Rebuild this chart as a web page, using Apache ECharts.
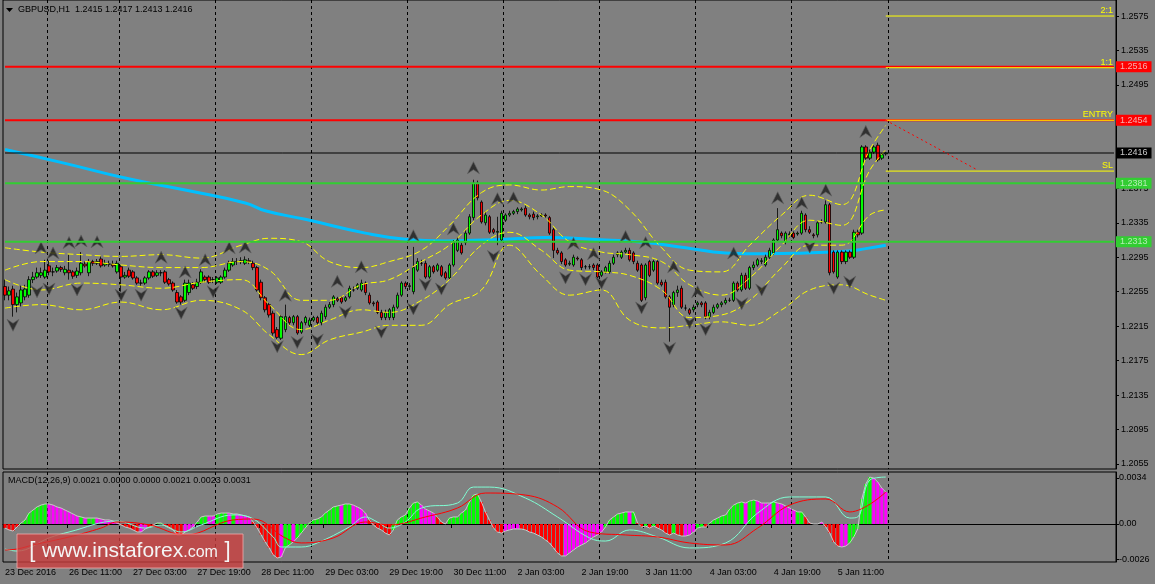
<!DOCTYPE html>
<html><head><meta charset="utf-8">
<script src="https://cdn.jsdelivr.net/npm/echarts@6/dist/echarts.min.js"></script>
<style>html,body{margin:0;padding:0;background:#808080;}#c{width:1155px;height:584px;}</style>
</head><body><div id="c"></div>
<script>
const FONT = "'Liberation Sans', Arial, sans-serif";
const slotCount = 278;
const xTickLabels = ["23 Dec 2016","26 Dec 11:00","27 Dec 03:00","27 Dec 19:00","28 Dec 11:00","29 Dec 03:00","29 Dec 19:00","30 Dec 11:00","2 Jan 03:00","2 Jan 19:00","3 Jan 11:00","4 Jan 03:00","4 Jan 19:00","5 Jan 11:00"];
const daySeparators = [11,29,53,77,101,125,149,173,197,221];
const priceTicks = [1.2055,1.2095,1.2135,1.2175,1.2215,1.2255,1.2295,1.2335,1.2375,1.2415,1.2455,1.2495,1.2535,1.2575];
const macdTicks = [0.0034,0,-0.0026];
// [open, close, low, high]
const candles = [
[1.2261,1.2251,1.2245,1.2269],[1.2251,1.2256,1.2245,1.2261],[1.2258,1.2240,1.2226,1.2262],[1.2240,1.2249,1.2231,1.2254],[1.2242,1.2257,1.2238,1.2262],
[1.2249,1.2258,1.2245,1.2263],[1.2251,1.2269,1.2248,1.2273],[1.2269,1.2272,1.2265,1.2278],[1.2272,1.2277,1.2270,1.2283],[1.2274,1.2277,1.2271,1.2283],
[1.2272,1.2280,1.2270,1.2292],[1.2285,1.2278,1.2274,1.2291],[1.2278,1.2278,1.2273,1.2283],[1.2279,1.2283,1.2277,1.2286],[1.2283,1.2281,1.2278,1.2285],
[1.2277,1.2281,1.2274,1.2285],[1.2280,1.2277,1.2269,1.2298],[1.2278,1.2273,1.2270,1.2280],[1.2274,1.2279,1.2271,1.2283],[1.2277,1.2288,1.2274,1.2301],
[1.2287,1.2285,1.2283,1.2290],[1.2277,1.2290,1.2273,1.2293],[1.2290,1.2288,1.2285,1.2292],[1.2288,1.2290,1.2286,1.2293],[1.2293,1.2285,1.2283,1.2296],
[1.2286,1.2288,1.2284,1.2292],[1.2287,1.2287,1.2284,1.2291],[1.2287,1.2285,1.2283,1.2291],[1.2278,1.2288,1.2276,1.2291],[1.2284,1.2272,1.2255,1.2286],
[1.2272,1.2274,1.2270,1.2278],[1.2280,1.2273,1.2271,1.2283],[1.2278,1.2271,1.2269,1.2280],[1.2271,1.2265,1.2263,1.2273],[1.2265,1.2265,1.2262,1.2269],
[1.2265,1.2271,1.2263,1.2273],[1.2271,1.2278,1.2269,1.2280],[1.2278,1.2273,1.2271,1.2280],[1.2274,1.2277,1.2272,1.2280],[1.2277,1.2277,1.2273,1.2280],
[1.2278,1.2266,1.2264,1.2280],[1.2269,1.2264,1.2262,1.2271],[1.2265,1.2257,1.2255,1.2267],[1.2254,1.2243,1.2241,1.2257],[1.2249,1.2243,1.2240,1.2251],
[1.2245,1.2265,1.2243,1.2269],[1.2254,1.2265,1.2251,1.2269],[1.2263,1.2259,1.2257,1.2266],[1.2261,1.2266,1.2258,1.2270],[1.2266,1.2278,1.2264,1.2281],
[1.2272,1.2269,1.2266,1.2274],[1.2272,1.2266,1.2264,1.2274],[1.2269,1.2269,1.2265,1.2272],[1.2266,1.2271,1.2264,1.2273],[1.2266,1.2272,1.2264,1.2274],
[1.2272,1.2280,1.2270,1.2283],[1.2280,1.2288,1.2278,1.2291],[1.2286,1.2290,1.2284,1.2294],[1.2290,1.2290,1.2286,1.2294],[1.2290,1.2291,1.2287,1.2295],
[1.2288,1.2292,1.2286,1.2296],[1.2291,1.2290,1.2287,1.2294],[1.2288,1.2283,1.2280,1.2291],[1.2283,1.2257,1.2255,1.2285],[1.2266,1.2248,1.2245,1.2269],
[1.2248,1.2234,1.2231,1.2250],[1.2240,1.2228,1.2225,1.2242],[1.2230,1.2207,1.2204,1.2233],[1.2211,1.2202,1.2200,1.2214],[1.2201,1.2226,1.2199,1.2228],
[1.2211,1.2226,1.2208,1.2240],[1.2225,1.2219,1.2216,1.2227],[1.2219,1.2226,1.2216,1.2228],[1.2226,1.2207,1.2205,1.2228],[1.2208,1.2219,1.2206,1.2221],
[1.2219,1.2225,1.2216,1.2227],[1.2216,1.2222,1.2214,1.2225],[1.2222,1.2225,1.2220,1.2227],[1.2225,1.2219,1.2216,1.2227],[1.2219,1.2230,1.2216,1.2233],
[1.2226,1.2237,1.2223,1.2240],[1.2237,1.2240,1.2235,1.2243],[1.2240,1.2249,1.2237,1.2251],[1.2247,1.2245,1.2243,1.2249],[1.2248,1.2243,1.2241,1.2250],
[1.2245,1.2248,1.2243,1.2250],[1.2249,1.2259,1.2247,1.2262],[1.2257,1.2257,1.2255,1.2261],[1.2259,1.2263,1.2257,1.2265],[1.2257,1.2265,1.2255,1.2269],
[1.2265,1.2254,1.2251,1.2267],[1.2251,1.2242,1.2240,1.2254],[1.2242,1.2241,1.2238,1.2244],[1.2243,1.2231,1.2229,1.2245],[1.2231,1.2225,1.2222,1.2234],
[1.2225,1.2231,1.2222,1.2234],[1.2225,1.2234,1.2222,1.2236],[1.2225,1.2237,1.2222,1.2240],[1.2237,1.2251,1.2235,1.2254],[1.2251,1.2265,1.2249,1.2267],
[1.2265,1.2261,1.2258,1.2267],[1.2261,1.2262,1.2257,1.2265],[1.2255,1.2283,1.2252,1.2307],[1.2280,1.2290,1.2278,1.2294],[1.2288,1.2288,1.2285,1.2292],
[1.2288,1.2272,1.2270,1.2291],[1.2272,1.2284,1.2270,1.2286],[1.2284,1.2278,1.2276,1.2286],[1.2280,1.2286,1.2278,1.2288],[1.2284,1.2274,1.2272,1.2286],
[1.2277,1.2271,1.2269,1.2279],[1.2271,1.2286,1.2269,1.2288],[1.2286,1.2312,1.2284,1.2315],[1.2303,1.2315,1.2301,1.2318],[1.2309,1.2300,1.2298,1.2312],
[1.2312,1.2323,1.2309,1.2327],[1.2323,1.2342,1.2321,1.2345],[1.2341,1.2381,1.2338,1.2385],[1.2381,1.2364,1.2361,1.2384],[1.2359,1.2336,1.2334,1.2361],
[1.2335,1.2344,1.2332,1.2348],[1.2342,1.2324,1.2322,1.2344],[1.2327,1.2324,1.2322,1.2329],[1.2324,1.2325,1.2309,1.2342],[1.2315,1.2346,1.2313,1.2349],
[1.2338,1.2344,1.2336,1.2346],[1.2344,1.2346,1.2342,1.2349],[1.2346,1.2348,1.2344,1.2350],[1.2348,1.2351,1.2345,1.2353],[1.2350,1.2351,1.2348,1.2353],
[1.2352,1.2344,1.2342,1.2355],[1.2344,1.2342,1.2339,1.2346],[1.2345,1.2341,1.2338,1.2348],[1.2342,1.2343,1.2339,1.2345],[1.2343,1.2344,1.2342,1.2346],
[1.2344,1.2343,1.2341,1.2346],[1.2341,1.2323,1.2321,1.2343],[1.2327,1.2303,1.2294,1.2329],[1.2303,1.2300,1.2298,1.2306],[1.2300,1.2290,1.2287,1.2302],
[1.2292,1.2286,1.2284,1.2294],[1.2287,1.2288,1.2285,1.2291],[1.2286,1.2295,1.2284,1.2298],[1.2294,1.2293,1.2291,1.2296],[1.2292,1.2283,1.2280,1.2294],
[1.2284,1.2284,1.2281,1.2286],[1.2284,1.2284,1.2281,1.2287],[1.2286,1.2283,1.2280,1.2288],[1.2286,1.2272,1.2270,1.2288],[1.2274,1.2278,1.2272,1.2280],
[1.2278,1.2283,1.2276,1.2285],[1.2278,1.2288,1.2276,1.2291],[1.2288,1.2295,1.2286,1.2298],[1.2298,1.2300,1.2295,1.2302],[1.2295,1.2301,1.2293,1.2303],
[1.2301,1.2303,1.2299,1.2306],[1.2303,1.2292,1.2290,1.2306],[1.2300,1.2290,1.2287,1.2302],[1.2288,1.2280,1.2278,1.2291],[1.2286,1.2245,1.2243,1.2288],
[1.2248,1.2286,1.2245,1.2288],[1.2290,1.2274,1.2272,1.2292],[1.2280,1.2290,1.2278,1.2292],[1.2290,1.2265,1.2263,1.2292],[1.2266,1.2263,1.2261,1.2269],
[1.2266,1.2249,1.2247,1.2269],[1.2249,1.2237,1.2197,1.2251],[1.2240,1.2254,1.2237,1.2256],[1.2254,1.2257,1.2249,1.2262],[1.2259,1.2237,1.2235,1.2262],
[1.2236,1.2236,1.2233,1.2240],[1.2234,1.2230,1.2228,1.2236],[1.2234,1.2237,1.2231,1.2240],[1.2240,1.2242,1.2237,1.2244],[1.2242,1.2240,1.2237,1.2244],
[1.2242,1.2226,1.2223,1.2244],[1.2226,1.2231,1.2223,1.2234],[1.2231,1.2237,1.2229,1.2240],[1.2237,1.2240,1.2235,1.2242],[1.2240,1.2242,1.2237,1.2244],
[1.2242,1.2245,1.2240,1.2248],[1.2245,1.2245,1.2243,1.2248],[1.2245,1.2265,1.2243,1.2267],[1.2265,1.2257,1.2255,1.2267],[1.2257,1.2274,1.2255,1.2277],
[1.2274,1.2259,1.2257,1.2277],[1.2259,1.2283,1.2257,1.2285],[1.2283,1.2286,1.2280,1.2290],[1.2286,1.2292,1.2284,1.2294],[1.2290,1.2291,1.2287,1.2294],
[1.2286,1.2295,1.2284,1.2298],[1.2295,1.2303,1.2293,1.2306],[1.2300,1.2315,1.2298,1.2317],[1.2315,1.2327,1.2313,1.2352],[1.2323,1.2320,1.2317,1.2325],
[1.2313,1.2323,1.2310,1.2325],[1.2321,1.2322,1.2318,1.2325],[1.2323,1.2318,1.2316,1.2325],[1.2322,1.2323,1.2320,1.2325],[1.2323,1.2346,1.2321,1.2349],
[1.2344,1.2327,1.2324,1.2346],[1.2327,1.2324,1.2322,1.2331],[1.2321,1.2320,1.2317,1.2323],[1.2321,1.2335,1.2318,1.2337],[1.2336,1.2336,1.2334,1.2339],
[1.2336,1.2356,1.2334,1.2361],[1.2356,1.2277,1.2274,1.2358],[1.2301,1.2278,1.2276,1.2303],[1.2272,1.2301,1.2270,1.2303],[1.2301,1.2290,1.2287,1.2303],
[1.2290,1.2301,1.2287,1.2303],[1.2301,1.2295,1.2293,1.2303],[1.2295,1.2324,1.2293,1.2327],[1.2324,1.2321,1.2318,1.2327],[1.2323,1.2423,1.2321,1.2425],
[1.2423,1.2410,1.2408,1.2425],[1.2410,1.2417,1.2408,1.2420],[1.2417,1.2423,1.2415,1.2425],[1.2425,1.2408,1.2406,1.2428],[1.2410,1.2414,1.2408,1.2416],
[1.2415,1.2416,1.2413,1.2417]
];
const movingAverage = [[0,1.2420],[15,1.2404],[30,1.2387],[45,1.2373],[60,1.2358],[65,1.2349],[75,1.2339],[90,1.2323],[100,1.2316],[110,1.2314],[125,1.2316],[135,1.2318],[150,1.2315],[160,1.2312],[170,1.2306],[180,1.2300],[190,1.2299],[200,1.2300],[210,1.2302],[215,1.2305],[220,1.2309]];
const bandOuterUpper = [[0,1.2306],[9,1.2301],[19,1.2298],[29,1.2296],[39,1.2298],[49,1.2294],[59,1.2309],[66,1.2317],[74,1.2313],[81,1.2290],[89,1.2283],[96,1.2290],[104,1.2303],[111,1.2332],[119,1.2370],[126,1.2379],[134,1.2373],[141,1.2377],[149,1.2373],[156,1.2350],[164,1.2306],[171,1.2280],[179,1.2278],[186,1.2309],[194,1.2344],[201,1.2367],[209,1.2356],[216,1.2420],[220,1.2448]];
const bandInnerUpper = [[0,1.2280],[9,1.2290],[19,1.2290],[29,1.2286],[39,1.2283],[49,1.2283],[59,1.2290],[66,1.2280],[74,1.2245],[81,1.2245],[89,1.2263],[96,1.2269],[104,1.2290],[111,1.2309],[119,1.2344],[126,1.2361],[134,1.2344],[141,1.2313],[149,1.2301],[156,1.2298],[164,1.2290],[171,1.2263],[179,1.2251],[186,1.2271],[194,1.2309],[201,1.2338],[209,1.2332],[216,1.2396],[220,1.2420]];
const bandInnerLower = [[0,1.2269],[9,1.2257],[19,1.2265],[29,1.2263],[39,1.2259],[49,1.2266],[59,1.2269],[66,1.2240],[74,1.2211],[81,1.2222],[89,1.2234],[96,1.2231],[104,1.2245],[111,1.2269],[119,1.2309],[126,1.2324],[134,1.2303],[141,1.2280],[149,1.2278],[156,1.2274],[164,1.2257],[171,1.2225],[179,1.2228],[186,1.2245],[194,1.2283],[201,1.2309],[209,1.2309],[216,1.2344],[220,1.2350]];
const bandOuterLower = [[0,1.2236],[9,1.2240],[19,1.2234],[29,1.2243],[39,1.2234],[49,1.2245],[59,1.2234],[66,1.2205],[74,1.2182],[81,1.2199],[89,1.2208],[96,1.2216],[104,1.2216],[111,1.2240],[119,1.2257],[126,1.2309],[134,1.2274],[141,1.2251],[149,1.2257],[156,1.2222],[164,1.2213],[171,1.2216],[179,1.2220],[186,1.2216],[194,1.2234],[201,1.2257],[209,1.2263],[216,1.2251],[220,1.2245]];
const fractalUp = [[9,1.2306],[12,1.2300],[16,1.2312],[19,1.2314],[23,1.2313],[39,1.2295],[45,1.2278],[50,1.2292],[56,1.2306],[60,1.2307],[70,1.2251],[83,1.2267],[89,1.2284],[102,1.2320],[112,1.2328],[117,1.2399],[123,1.2363],[127,1.2364],[142,1.2311],[147,1.2299],[155,1.2319],[160,1.2312],[167,1.2284],[173,1.2255],[182,1.2300],[193,1.2364],[199,1.2358],[205,1.2373],[215,1.2441]];
const fractalDown = [[2,1.2216],[8,1.2255],[11,1.2258],[18,1.2257],[29,1.2251],[34,1.2251],[44,1.2230],[52,1.2255],[68,1.2191],[73,1.2196],[78,1.2199],[85,1.2231],[94,1.2208],[102,1.2235],[105,1.2263],[109,1.2258],[122,1.2296],[140,1.2271],[145,1.2269],[149,1.2265],[159,1.2236],[166,1.2189],[171,1.2219],[175,1.2211],[184,1.2241],[189,1.2257],[201,1.2307],[207,1.2259],[211,1.2266]];
const macdHist = [
-0.00030,-0.00044,-0.00052,-0.00022,0.00007,0.00030,0.00081,0.00103,0.00126,0.00140,
0.00148,0.00148,0.00140,0.00126,0.00118,0.00103,0.00089,0.00074,0.00059,0.00052,
0.00044,0.00044,0.00044,0.00044,0.00037,0.00030,0.00030,0.00022,0.00007,-0.00007,
-0.00022,-0.00030,-0.00044,-0.00059,-0.00059,-0.00037,-0.00022,-0.00007,0.00007,0.00007,
-0.00015,-0.00030,-0.00044,-0.00081,-0.00081,-0.00059,-0.00044,-0.00022,0.00015,0.00052,
0.00059,0.00059,0.00059,0.00074,0.00081,0.00081,0.00081,0.00074,0.00074,0.00067,
0.00059,0.00052,0.00015,-0.00030,-0.00081,-0.00133,-0.00177,-0.00229,-0.00251,-0.00244,
-0.00177,-0.00155,-0.00133,-0.00103,-0.00067,-0.00030,0.00007,0.00030,0.00037,0.00052,
0.00081,0.00103,0.00126,0.00133,0.00140,0.00148,0.00148,0.00140,0.00126,0.00111,
0.00081,0.00030,-0.00007,-0.00030,-0.00044,-0.00067,-0.00081,-0.00044,0.00030,0.00052,
0.00067,0.00118,0.00155,0.00163,0.00140,0.00111,0.00096,0.00081,0.00052,0.00015,
0.00000,0.00044,0.00052,0.00052,0.00081,0.00103,0.00163,0.00214,0.00222,0.00163,
0.00089,0.00030,-0.00030,-0.00059,-0.00067,-0.00052,-0.00044,-0.00037,-0.00037,-0.00037,
-0.00044,-0.00059,-0.00067,-0.00081,-0.00096,-0.00118,-0.00140,-0.00177,-0.00214,-0.00236,
-0.00236,-0.00214,-0.00192,-0.00170,-0.00155,-0.00140,-0.00118,-0.00096,-0.00081,-0.00059,
-0.00022,0.00030,0.00052,0.00074,0.00081,0.00089,0.00089,0.00089,0.00007,-0.00022,
-0.00015,-0.00030,-0.00015,-0.00030,-0.00044,-0.00067,-0.00081,-0.00067,-0.00081,-0.00089,
-0.00089,-0.00081,-0.00059,-0.00030,-0.00022,-0.00022,0.00007,0.00030,0.00044,0.00059,
0.00067,0.00111,0.00140,0.00155,0.00163,0.00155,0.00170,0.00177,0.00170,0.00155,
0.00155,0.00155,0.00163,0.00155,0.00148,0.00133,0.00118,0.00103,0.00089,0.00089,
0.00052,0.00007,0.00000,0.00000,0.00015,-0.00022,-0.00067,-0.00133,-0.00163,-0.00170,
-0.00163,-0.00140,-0.00096,-0.00037,0.00185,0.00296,0.00347,0.00340,0.00310,0.00266,
0.00236];
const macdHistState = "rrrrgggggggmmmmmmmmgmggmmmmmmrrrrrmmrrggrrrrrmmmgggmmgggmgmmmmrrrrrrrmggmgggggggggggmggmmmmrrrrrrgggggggmmmmrrrggggggggrrrrrrmmmmrrrrrrrrrrrmmmmmmmmmmggggggmgrrgrgrrrrgrrmmmggrgggggggggmggmmmmgmmmmmggrrmmmrrrrmmggggggmmmm";
const macdMain = [[0,-0.00185],[3,-0.00200],[11,-0.00103],[16,-0.00059],[28,0.00022],[35,-0.00030],[39,-0.00007],[44,-0.00059],[49,-0.00007],[57,0.00067],[61,0.00052],[67,-0.00096],[69,-0.00170],[74,-0.00170],[78,-0.00140],[86,-0.00022],[90,0.00052],[93,0.00015],[96,-0.00030],[100,0.00015],[104,0.00118],[113,0.00155],[117,0.00273],[121,0.00273],[130,0.00192],[138,0.00052],[146,-0.00103],[150,-0.00126],[156,-0.00044],[163,-0.00096],[171,-0.00177],[180,-0.00140],[188,0.00081],[196,0.00200],[205,0.00200],[211,0.00044],[213,0.00052],[216,0.00325],[220,0.00347]];
const macdSignal = [[0,-0.00192],[3,-0.00185],[7,-0.00155],[16,-0.00096],[24,-0.00030],[28,0.00015],[36,-0.00007],[45,-0.00081],[57,0.00030],[62,0.00037],[70,-0.00103],[74,-0.00140],[82,-0.00103],[90,0.00015],[96,-0.00007],[105,0.00052],[113,0.00118],[120,0.00229],[130,0.00214],[138,0.00126],[146,-0.00059],[155,-0.00081],[163,-0.00096],[171,-0.00140],[180,-0.00155],[188,-0.00030],[196,0.00140],[205,0.00185],[211,0.00089],[220,0.00236]];
const levels = {target2: 1.2575, target1: 1.2515, resist1: 1.2516, entry: 1.2454, bid: 1.2416, stop: 1.2395, support1: 1.2381, support2: 1.2313};
const tradeStart = 220, tradeEnd = 277, trendEnd = [243, 1.2396];

const categories = Array.from({length: slotCount}, (_, i) => String(i));
const stateColor = {g: '#00ff00', m: '#ff00ff', r: '#ff0000'};
const sepFn = (idx) => daySeparators.includes(idx);
const tickFn = (idx) => idx % 16 === 0 && idx / 16 < xTickLabels.length;
const splitLine = {show: true, interval: sepFn, lineStyle: {color: '#000', type: [3, 3], width: 1}};

function levelSeries(v, lineColor, width, bg, fg) {
  return {type: 'line', xAxisIndex: 0, yAxisIndex: 0, data: [[0, v], [slotCount - 1, v]], showSymbol: false, silent: true, z: 6,
    lineStyle: {color: lineColor, width: width},
    endLabel: {show: true, distance: 2, formatter: v.toFixed(4), backgroundColor: bg, color: fg,
      padding: [1, 4, 0, 4], lineHeight: 10, fontSize: 9, fontFamily: FONT}};
}
function planSeries(v, text) {
  return {type: 'line', xAxisIndex: 0, yAxisIndex: 0, data: [[tradeStart, v], [tradeEnd, v]], showSymbol: false, silent: true, z: 7,
    lineStyle: {color: '#ffff00', width: 1},
    endLabel: {show: true, formatter: text, distance: 0, align: 'right', verticalAlign: 'bottom', offset: [-1, -1],
      color: '#ffff00', fontSize: 9, fontFamily: FONT}};
}
function bandSeries(data) {
  return {type: 'line', xAxisIndex: 0, yAxisIndex: 0, data: data, smooth: 0.4, showSymbol: false, silent: true, z: 3,
    lineStyle: {color: '#ffff00', width: 1, type: [6, 3]}};
}

const chart = echarts.init(document.getElementById('c'), null, {renderer: 'canvas'});
chart.setOption({
  animation: false,
  backgroundColor: '#808080',
  textStyle: {fontFamily: FONT},
  grid: [
    {left: 3, right: 39, top: 0, height: 469, show: true, borderColor: '#000', borderWidth: 1, backgroundColor: 'transparent'},
    {left: 3, right: 39, top: 472, height: 90, show: true, borderColor: '#000', borderWidth: 1, backgroundColor: 'transparent'}
  ],
  xAxis: [
    {type: 'category', gridIndex: 0, data: categories, boundaryGap: true,
      axisLine: {show: false}, axisTick: {show: false}, axisLabel: {show: false}, splitLine: splitLine},
    {type: 'category', gridIndex: 1, data: categories, boundaryGap: true,
      axisLine: {show: true, lineStyle: {color: '#000'}},
      axisTick: {show: true, interval: tickFn, length: 4, lineStyle: {color: '#000'}},
      axisLabel: {show: true, interval: tickFn, align: 'left', margin: 6, color: '#000', fontSize: 9, fontFamily: FONT,
        formatter: (v) => xTickLabels[Number(v) / 16]},
      splitLine: splitLine}
  ],
  yAxis: [
    {type: 'value', gridIndex: 0, position: 'right', min: 1.20492, max: 1.25936,
      axisLine: {show: true, lineStyle: {color: '#000'}},
      axisTick: {show: true, length: 3, customValues: priceTicks, lineStyle: {color: '#000'}},
      axisLabel: {show: true, customValues: priceTicks, margin: 5, color: '#000', fontSize: 9, fontFamily: FONT, formatter: (v) => v.toFixed(4)},
      splitLine: {show: false}},
    {type: 'value', gridIndex: 1, position: 'right', min: -0.002809, max: 0.003844,
      axisLine: {show: true, lineStyle: {color: '#000'}},
      axisTick: {show: true, length: 3, customValues: macdTicks, lineStyle: {color: '#000'}},
      axisLabel: {show: true, customValues: macdTicks, margin: 3, color: '#000', fontSize: 9, fontFamily: FONT,
        formatter: (v) => Math.abs(v) < 1e-9 ? '0.00' : v.toFixed(4)},
      splitLine: {show: false}}
  ],
  series: [
    {type: 'line', xAxisIndex: 0, yAxisIndex: 0, data: movingAverage, smooth: 0.5, showSymbol: false, silent: true, z: 1,
      lineStyle: {color: '#00bfff', width: 3}},
    bandSeries(bandOuterUpper), bandSeries(bandInnerUpper), bandSeries(bandInnerLower), bandSeries(bandOuterLower),
    {type: 'candlestick', xAxisIndex: 0, yAxisIndex: 0, data: candles, barWidth: 3, z: 2,
      itemStyle: {color: '#00ff00', color0: '#ff0000', borderColor: '#000', borderColor0: '#000', borderWidth: 0.8}},
    levelSeries(levels.resist1, '#ff0000', 2, '#ff0000', '#f4b0b0'),
    levelSeries(levels.entry, '#ff0000', 2, '#ff0000', '#f4b0b0'),
    levelSeries(levels.bid, '#000000', 1, '#000000', '#c8c8c8'),
    levelSeries(levels.support1, '#32cd32', 2, '#32cd32', '#b4ecb4'),
    levelSeries(levels.support2, '#32cd32', 2, '#32cd32', '#b4ecb4'),
    planSeries(levels.target2, '2:1'),
    planSeries(levels.target1, '1:1'),
    planSeries(levels.entry, 'ENTRY'),
    planSeries(levels.stop, 'SL'),
    {type: 'line', xAxisIndex: 0, yAxisIndex: 0, data: [[tradeStart, levels.entry], trendEnd], showSymbol: false, silent: true, z: 7,
      lineStyle: {color: '#ff0000', width: 1, type: [2, 3]}},
    {type: 'scatter', xAxisIndex: 0, yAxisIndex: 0, data: fractalUp, silent: true, z: 4,
      symbol: 'path://M6,0 L12,12 L6,8 L0,12 Z', symbolSize: [12, 12],
      itemStyle: {color: '#1c1c1c', borderColor: '#606060', borderWidth: 0.8}},
    {type: 'scatter', xAxisIndex: 0, yAxisIndex: 0, data: fractalDown, silent: true, z: 4,
      symbol: 'path://M0,0 L6,4 L12,0 L6,12 Z', symbolSize: [12, 12],
      itemStyle: {color: '#1c1c1c', borderColor: '#606060', borderWidth: 0.8}},
    {type: 'bar', xAxisIndex: 1, yAxisIndex: 1, barWidth: 3, silent: true, z: 2,
      data: macdHist.map((v, i) => ({value: v, itemStyle: {color: stateColor[macdHistState[i]]}}))},
    {type: 'line', xAxisIndex: 1, yAxisIndex: 1, data: macdHist, showSymbol: false, silent: true, z: 3,
      lineStyle: {color: '#c8c8c8', width: 1}},
    {type: 'line', xAxisIndex: 1, yAxisIndex: 1, data: macdMain, smooth: 0.4, showSymbol: false, silent: true, z: 4,
      lineStyle: {color: '#7fffd4', width: 1}},
    {type: 'line', xAxisIndex: 1, yAxisIndex: 1, data: macdSignal, smooth: 0.4, showSymbol: false, silent: true, z: 4,
      lineStyle: {color: '#ff0000', width: 1}}
  ],
  graphic: [
    {type: 'polygon', shape: {points: [[6, 8], [13, 8], [9.5, 12]]}, style: {fill: '#000'}, z: 10},
    {type: 'text', x: 18, y: 10, z: 10, style: {text: 'GBPUSD,H1  1.2415 1.2417 1.2413 1.2416', fill: '#000', font: '9px ' + FONT, textVerticalAlign: 'middle'}},
    {type: 'text', x: 8, y: 481, z: 10, style: {text: 'MACD(12,26,9) 0.0021 0.0000 0.0000 0.0021 0.0023 0.0031', fill: '#000', font: '9px ' + FONT, textVerticalAlign: 'middle'}},
    {type: 'group', z: 20, children: [
      {type: 'rect', shape: {x: 17, y: 534, width: 226, height: 34}, style: {fill: 'rgba(205,62,62,0.78)', stroke: 'rgba(240,170,170,0.8)', lineWidth: 1}, z: 20},
      {type: 'text', x: 130, y: 551, z: 21, style: {
        text: '{b|[}  {w|www.instaforex}{c|.com}  {b|]}', align: 'center', verticalAlign: 'middle',
        rich: {
          b: {fill: '#f4f4f4', fontSize: 22, fontFamily: FONT},
          w: {fill: '#f4f4f4', fontSize: 21, fontFamily: FONT},
          c: {fill: '#f4f4f4', fontSize: 16, fontFamily: FONT, padding: [4, 0, 0, 0]}
        }}}
    ]}
  ]
});
</script>
</body></html>
